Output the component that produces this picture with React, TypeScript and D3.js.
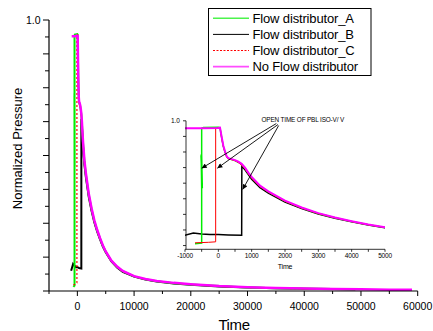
import React, { useRef, useEffect } from 'react';
import * as d3 from 'd3';

type Pt = [number, number];

// time (s), normalized pressure
const noFlow: Pt[] = [
  [-1000, 0.94], [-500, 0.94], [0, 0.942], [50, 0.945], [100, 0.87], [150, 0.8], [200, 0.755],
  [250, 0.715], [300, 0.7], [400, 0.693], [500, 0.685], [600, 0.672], [700, 0.655], [800, 0.625],
  [900, 0.585], [1000, 0.55], [1250, 0.48], [1500, 0.435], [2000, 0.36], [2500, 0.305], [3000, 0.26],
  [3500, 0.225], [4000, 0.195], [4500, 0.168], [5000, 0.146], [6000, 0.112], [7000, 0.09],
  [8000, 0.074], [10000, 0.055], [12000, 0.044], [14000, 0.037], [17000, 0.03], [20000, 0.025],
  [25000, 0.018], [30000, 0.014], [35000, 0.011], [40000, 0.009], [45000, 0.007], [50000, 0.006],
  [55000, 0.005], [59000, 0.005],
];

const distA: Pt[] = [
  [-700, 0.015], [-500, 0.02], [-500, 0.73], [-480, 0.46], [-520, 0.72], [-485, 0.47], [-515, 0.73],
  [-500, 0.46], [-500, 0.94], [-450, 0.946], [0, 0.948], [50, 0.946], [100, 0.865], [150, 0.795],
  [200, 0.75], [250, 0.712], [300, 0.697], [400, 0.69], [500, 0.682], [600, 0.668], [700, 0.65],
  [800, 0.62], [900, 0.58], [1000, 0.545], [1250, 0.476], [1500, 0.43], [2000, 0.356], [2500, 0.302],
  [3000, 0.257], [3500, 0.223], [4000, 0.193], [4500, 0.166], [5000, 0.145], [6000, 0.111],
  [7000, 0.089], [8000, 0.073], [10000, 0.054], [12000, 0.043], [14000, 0.036], [17000, 0.029],
  [20000, 0.024], [25000, 0.018], [30000, 0.013], [35000, 0.01], [40000, 0.008], [45000, 0.007],
  [49000, 0.006],
];

const distB: Pt[] = [
  [-1100, 0.075], [-750, 0.1], [-500, 0.093], [-250, 0.088], [0, 0.088], [300, 0.085], [700, 0.083],
  [705, 0.635], [800, 0.608], [900, 0.57], [1000, 0.532], [1250, 0.465], [1500, 0.42], [2000, 0.348],
  [2500, 0.296], [3000, 0.253], [3500, 0.219], [4000, 0.19], [4500, 0.164], [5000, 0.143],
  [6000, 0.109], [7000, 0.087], [8000, 0.071], [10000, 0.053], [12000, 0.042], [14000, 0.035],
  [17000, 0.028], [20000, 0.023], [25000, 0.017], [30000, 0.013], [35000, 0.01], [40000, 0.008],
  [45000, 0.007], [49000, 0.006],
];

const distC: Pt[] = [
  [-700, 0.022], [-300, 0.026], [-80, 0.03], [-80, 0.935], [0, 0.945], [50, 0.945], [100, 0.86],
  [150, 0.79], [200, 0.748], [250, 0.71], [300, 0.695], [400, 0.688], [500, 0.68], [600, 0.665],
  [700, 0.645], [800, 0.615], [900, 0.575], [1000, 0.54], [1250, 0.472], [1500, 0.428],
  [2000, 0.354], [2500, 0.3], [3000, 0.256], [3500, 0.222], [4000, 0.192], [4500, 0.166],
  [5000, 0.145], [6000, 0.11], [7000, 0.088], [8000, 0.072], [10000, 0.054], [12000, 0.043],
  [14000, 0.036], [17000, 0.029], [20000, 0.024], [25000, 0.017], [30000, 0.013], [35000, 0.01],
  [40000, 0.008], [45000, 0.007], [49000, 0.006],
];

const seriesNames = ['Flow distributor_A', 'Flow distributor_B', 'Flow distributor_C', 'No Flow distributor'];
const seriesColors = ['#00ee00', '#000000', '#ff0000', '#ff00ff'];

const mainXTicks = d3.range(-5000, 60001, 5000);
const mainXLabels = [0, 10000, 20000, 30000, 40000, 50000, 60000];
const yTicks = d3.range(0, 1.0001, 0.0625);
const insetXTicks = d3.range(-1000, 5001, 500);
const insetXLabels = [-1000, 0, 1000, 2000, 3000, 4000, 5000];
const insetYTicks = d3.range(0, 1.0001, 0.125);

// arrow targets of the "open time" annotation, in inset data coordinates
const arrowTargets: Pt[] = [[-500, 0.62], [-30, 0.62], [730, 0.45]];
const arrowOrigins: Pt[] = [[1740, 0.978], [1790, 0.97], [1810, 0.962]];

const FONT = 'Liberation Sans, Arial, Helvetica, sans-serif';

export default function App() {
  const svgRef = useRef<SVGSVGElement | null>(null);

  useEffect(() => {
    if (!svgRef.current) return;
    const svg = d3.select(svgRef.current);
    svg.selectAll('*').remove();
    svg.style('font-family', FONT);

    const all = [distB, distA, distC, noFlow];
    const order = [1, 0, 2, 3];

    // ---------- main chart ----------
    const x = d3.scaleLinear().domain([-5000, 60000]).range([49, 417.7]);
    const y = d3.scaleLinear().domain([0, 1]).range([291, 20]);

    const line = d3.line<Pt>().x(d => x(d[0])).y(d => y(d[1]));
    all.forEach((s, i) => {
      const k = order[i];
      svg.append('path').datum(s).attr('d', line)
        .attr('fill', 'none')
        .attr('stroke', seriesColors[k])
        .attr('stroke-width', k === 3 ? 2.5 : k === 2 ? 1.2 : 2)
        .attr('stroke-dasharray', k === 2 ? '2,2' : null);
    });

    // axes
    svg.append('line').attr('x1', x(-5000)).attr('x2', x(60000)).attr('y1', y(0)).attr('y2', y(0))
      .attr('stroke', '#000').attr('stroke-width', 1.2);
    svg.append('line').attr('x1', x(-5000)).attr('x2', x(-5000)).attr('y1', y(0)).attr('y2', y(1))
      .attr('stroke', '#000').attr('stroke-width', 1.2);

    svg.selectAll('line.xt').data(mainXTicks).join('line').attr('class', 'xt')
      .attr('x1', d => x(d)).attr('x2', d => x(d))
      .attr('y1', y(0)).attr('y2', d => y(0) + (d % 10000 === 0 ? 5 : 3))
      .attr('stroke', '#000');
    svg.selectAll('text.xl').data(mainXLabels).join('text').attr('class', 'xl')
      .attr('x', d => x(d)).attr('y', 309.5).attr('text-anchor', 'middle')
      .attr('font-size', 10.5).text(d => d);

    svg.selectAll('line.yt').data(yTicks).join('line').attr('class', 'yt')
      .attr('x1', (d, i) => x(-5000) - (i % 2 === 0 ? 6 : 4)).attr('x2', x(-5000))
      .attr('y1', d => y(d)).attr('y2', d => y(d))
      .attr('stroke', '#000');
    svg.append('text').attr('x', 40.5).attr('y', y(1) + 3.8).attr('text-anchor', 'end')
      .attr('font-size', 10.5).text('1.0');

    svg.append('text').attr('x', 234).attr('y', 329.5).attr('text-anchor', 'middle')
      .attr('font-size', 15).attr('letter-spacing', -0.4).text('Time');
    svg.append('text').attr('transform', 'translate(21.5,148.5) rotate(-90)')
      .attr('text-anchor', 'middle').attr('font-size', 13).text('Normalized Pressure');

    // ---------- legend ----------
    const lg = svg.append('g');
    lg.append('rect').attr('x', 208.5).attr('y', 8.5).attr('width', 162.5).attr('height', 67)
      .attr('fill', '#fff').attr('stroke', '#000').attr('stroke-width', 1);
    seriesNames.forEach((name, i) => {
      const cy = 18.3 + i * 16.1;
      lg.append('line').attr('x1', 213).attr('x2', 249).attr('y1', cy).attr('y2', cy)
        .attr('stroke', seriesColors[i])
        .attr('stroke-width', i === 1 ? 1 : i === 2 ? 1 : 1.6)
        .attr('stroke-opacity', i === 0 || i === 3 ? 0.7 : 1)
        .attr('stroke-dasharray', i === 2 ? '2,1.5' : null);
      lg.append('text').attr('x', 252.5).attr('y', cy + 4.7).attr('font-size', 13)
        .attr('letter-spacing', -0.15).text(name);
    });

    // ---------- inset ----------
    const ix = d3.scaleLinear().domain([-1000, 5000]).range([185, 385]);
    const iy = d3.scaleLinear().domain([-0.03, 1]).range([249.3, 120.8]);
    svg.append('clipPath').attr('id', 'insetClip').append('rect')
      .attr('x', ix(-1000)).attr('y', iy(1) - 2).attr('width', ix(5000) - ix(-1000))
      .attr('height', iy(-0.03) - iy(1) + 2);
    const iline = d3.line<Pt>().x(d => ix(d[0])).y(d => iy(d[1]));
    const ig = svg.append('g').attr('clip-path', 'url(#insetClip)');
    all.forEach((s, i) => {
      const k = order[i];
      ig.append('path').datum(s).attr('d', iline)
        .attr('fill', 'none')
        .attr('stroke', seriesColors[k])
        .attr('stroke-width', k === 3 ? 2 : k === 2 ? 1 : 1.5);
    });

    svg.append('line').attr('x1', ix(-1000)).attr('x2', ix(5000)).attr('y1', iy(-0.03)).attr('y2', iy(-0.03))
      .attr('stroke', '#000').attr('stroke-width', 0.8);
    svg.append('line').attr('x1', ix(-1000) + 1).attr('x2', ix(-1000) + 1).attr('y1', iy(-0.03)).attr('y2', iy(1))
      .attr('stroke', '#000').attr('stroke-width', 0.8);
    svg.selectAll('line.ixt').data(insetXTicks).join('line').attr('class', 'ixt')
      .attr('x1', d => ix(d)).attr('x2', d => ix(d))
      .attr('y1', iy(-0.03)).attr('y2', iy(-0.03) + 2.5)
      .attr('stroke', '#000').attr('stroke-width', 0.8);
    svg.selectAll('text.ixl').data(insetXLabels).join('text').attr('class', 'ixl')
      .attr('x', d => ix(d)).attr('y', 257.8).attr('text-anchor', 'middle')
      .attr('font-size', 6.5).attr('letter-spacing', -0.2).text(d => d);
    svg.selectAll('line.iyt').data(insetYTicks).join('line').attr('class', 'iyt')
      .attr('x1', ix(-1000) - 2).attr('x2', ix(-1000) + 1)
      .attr('y1', d => iy(d)).attr('y2', d => iy(d))
      .attr('stroke', '#000').attr('stroke-width', 0.8);
    svg.append('text').attr('x', 180).attr('y', iy(1) + 2.3).attr('text-anchor', 'end')
      .attr('font-size', 6.5).text('1.0');
    svg.append('text').attr('x', 285).attr('y', 268.5).attr('text-anchor', 'middle')
      .attr('font-size', 7).attr('letter-spacing', -0.2).text('Time');

    // annotation
    svg.append('text').attr('x', 261.5).attr('y', 121.5).attr('font-size', 6.4)
      .attr('letter-spacing', -0.15).text('OPEN TIME OF PBL ISO-V/ V');
    const defs = svg.append('defs');
    defs.append('marker').attr('id', 'arr').attr('viewBox', '0 0 10 10')
      .attr('refX', 10).attr('refY', 5).attr('markerWidth', 6).attr('markerHeight', 5)
      .attr('markerUnits', 'userSpaceOnUse').attr('orient', 'auto')
      .append('path').attr('d', 'M0,0 L10,5 L0,10 Z').attr('fill', '#000');
    arrowTargets.forEach((t, i) => {
      const o = arrowOrigins[i];
      svg.append('line')
        .attr('x1', ix(o[0])).attr('y1', iy(o[1]))
        .attr('x2', ix(t[0])).attr('y2', iy(t[1]))
        .attr('stroke', '#000').attr('stroke-width', 0.9)
        .attr('marker-end', 'url(#arr)');
    });
  }, []);

  return (
    <svg ref={svgRef} width={433} height={331}
      style={{ position: 'absolute', left: 0, top: 0, background: '#fff' }} />
  );
}
